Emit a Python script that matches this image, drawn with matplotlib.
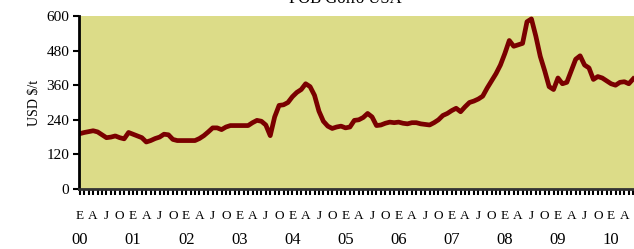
import matplotlib.pyplot as plt
import matplotlib as mpl
import numpy as np

mpl.rc('font', family=['Liberation Serif', 'DejaVu Serif'])

# monthly price, Jan 2000 .. Jun 2010 (USD/t)
price = [192, 196, 199, 202, 198, 188, 178, 180, 184, 178, 174, 196,
         190, 184, 178, 163, 168, 175, 180, 190, 188, 172, 168, 168,
         168, 168, 168, 175, 185, 198, 212, 212, 206, 215, 220, 220,
         220, 220, 220, 230, 238, 235, 222, 185, 250, 290, 292, 300,
         320, 335, 345, 365, 355, 325, 270, 235, 218, 210, 215, 218,
         212, 215, 238, 240, 248, 262, 250, 220, 222, 228, 232, 230,
         232, 228, 226, 230, 230, 226, 224, 222, 230, 240, 255, 262,
         272, 280, 268, 285, 300, 305, 312, 322, 350, 375, 400, 430,
         470, 515, 495, 500, 505, 580, 590, 530, 460, 410, 355, 345,
         385, 365, 370, 410, 450, 462, 430, 420, 380, 390, 385, 375,
         365, 360, 370, 372, 365, 382]
months = np.arange(len(price))

month_letters = ['E', 'A', 'J', 'O']
years = ['00', '01', '02', '03', '04', '05', '06', '07', '08', '09', '10']
yticks = [0, 120, 240, 360, 480, 600]

fig = plt.figure(figsize=(6.34, 2.49), dpi=100)
ax = fig.add_axes([79 / 634, 60 / 249, 556 / 634, 173 / 249])
ax.set_facecolor('#dcdc88')

ax.plot(months, price, color='#7a0000', lw=3.4, solid_joinstyle='round')

ax.set_xlim(-0.2, 125.4)
ax.set_ylim(0, 600)
ax.set_yticks(yticks)
ax.tick_params(axis='y', direction='out', length=4, width=1.5, labelsize=11, pad=3)

qpos = np.arange(0, 126, 3)
ax.set_xticks(qpos)
ax.set_xticklabels([month_letters[(q // 3) % 4] for q in qpos], fontsize=9.5)
ax.set_xticks(np.arange(0, 126), minor=True)
ax.tick_params(axis='x', which='both', direction='out', length=4, width=1.5, pad=11)

for i, yr in enumerate(years):
    ax.text(i * 12, -0.32, yr, transform=ax.get_xaxis_transform(),
            ha='center', va='baseline', fontsize=12)

for s in ['top', 'right']:
    ax.spines[s].set_visible(False)
ax.spines['left'].set_linewidth(2)
ax.spines['bottom'].set_linewidth(2)
ax.spines['bottom'].set_color('#333333')

ax.set_ylabel('USD $/t', fontsize=10, labelpad=4)
fig.text(0.545, 1.035, 'FOB Golfo USA', ha='center', va='top', fontsize=12)

fig.savefig('out.png', dpi=100)
